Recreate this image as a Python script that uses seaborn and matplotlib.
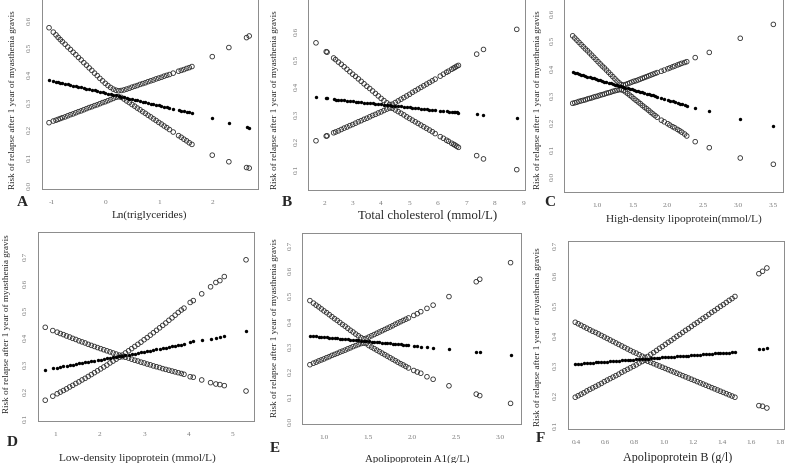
#!/usr/bin/env python3
"""
Restricted cubic spline style panels: blood lipids vs risk of relapse after
1 year of myasthenia gravis. Fitted risk (dots) with lower / upper bounds
(open circles), six panels A-F.
"""
import matplotlib

matplotlib.use("Agg")
import matplotlib.pyplot as plt
import pandas as pd
import seaborn as sns

W, H = 787, 463
Y_LABEL = "Risk of relapse after 1 year of myasthenia gravis"

# ---- A: Ln(triglycerides) ----
a_x = [-1.05, -0.97, -0.92, -0.88, -0.84, -0.80, -0.75, -0.70, -0.65, -0.60, -0.55, -0.50,
       -0.45, -0.40, -0.35, -0.30, -0.25, -0.20, -0.15, -0.10, -0.05, 0.00, 0.05, 0.10,
       0.15, 0.20, 0.25, 0.30, 0.35, 0.40, 0.45, 0.50, 0.55, 0.60, 0.65, 0.70, 0.75, 0.80,
       0.85, 0.90, 0.95, 1.00, 1.05, 1.10, 1.15, 1.20, 1.27, 1.37, 1.42, 1.47, 1.52, 1.57,
       1.62, 2.00, 2.31, 2.64, 2.69]
a_fit = [0.372, 0.368, 0.366, 0.364, 0.362, 0.361, 0.358, 0.356, 0.354, 0.352, 0.349, 0.347,
         0.345, 0.343, 0.340, 0.338, 0.336, 0.334, 0.331, 0.329, 0.327, 0.325, 0.322, 0.320,
         0.318, 0.316, 0.313, 0.311, 0.309, 0.307, 0.304, 0.302, 0.300, 0.298, 0.295, 0.293,
         0.291, 0.289, 0.286, 0.284, 0.282, 0.280, 0.277, 0.275, 0.273, 0.271, 0.268, 0.263,
         0.261, 0.259, 0.256, 0.254, 0.252, 0.233, 0.217, 0.200, 0.199]
a_lower = [0.217, 0.223, 0.226, 0.229, 0.232, 0.235, 0.238, 0.242, 0.246, 0.249, 0.253, 0.257,
           0.260, 0.264, 0.268, 0.272, 0.275, 0.279, 0.282, 0.286, 0.290, 0.293, 0.297, 0.301,
           0.305, 0.309, 0.311, 0.309, 0.303, 0.296, 0.290, 0.283, 0.277, 0.270, 0.264, 0.257,
           0.251, 0.244, 0.238, 0.231, 0.225, 0.218, 0.212, 0.205, 0.199, 0.192, 0.183, 0.170,
           0.164, 0.157, 0.151, 0.144, 0.138, 0.099, 0.075, 0.054, 0.052]
a_upper = [0.562, 0.546, 0.536, 0.527, 0.519, 0.511, 0.502, 0.492, 0.483, 0.473, 0.464, 0.454,
           0.445, 0.435, 0.426, 0.416, 0.407, 0.397, 0.388, 0.378, 0.369, 0.360, 0.352, 0.345,
           0.339, 0.335, 0.333, 0.334, 0.336, 0.339, 0.342, 0.346, 0.349, 0.352, 0.356, 0.359,
           0.362, 0.366, 0.369, 0.372, 0.376, 0.379, 0.382, 0.386, 0.389, 0.392, 0.397, 0.404,
           0.407, 0.410, 0.414, 0.417, 0.421, 0.457, 0.490, 0.526, 0.532]

# ---- B: Total cholesterol ----
b_x = [1.71, 2.07, 2.10, 2.33, 2.40, 2.50, 2.60, 2.70, 2.80, 2.90, 3.00, 3.10, 3.20, 3.30,
       3.40, 3.50, 3.60, 3.70, 3.80, 3.90, 4.00, 4.10, 4.20, 4.30, 4.40, 4.50, 4.60, 4.70,
       4.80, 4.90, 5.00, 5.10, 5.20, 5.30, 5.40, 5.50, 5.60, 5.70, 5.80, 5.90, 6.08, 6.19,
       6.30, 6.37, 6.48, 6.55, 6.60, 6.66, 6.72, 7.36, 7.60, 8.77]
b_fit = [0.352, 0.348, 0.348, 0.345, 0.344, 0.343, 0.342, 0.341, 0.340, 0.339, 0.338, 0.336,
         0.335, 0.334, 0.333, 0.332, 0.331, 0.330, 0.329, 0.327, 0.326, 0.325, 0.324, 0.323,
         0.322, 0.321, 0.320, 0.319, 0.317, 0.316, 0.315, 0.314, 0.313, 0.312, 0.311, 0.310,
         0.308, 0.307, 0.306, 0.305, 0.303, 0.302, 0.301, 0.300, 0.299, 0.298, 0.298, 0.297,
         0.296, 0.290, 0.288, 0.276]
b_lower = [0.194, 0.211, 0.212, 0.223, 0.226, 0.230, 0.235, 0.240, 0.244, 0.249, 0.253, 0.258,
           0.263, 0.267, 0.272, 0.276, 0.281, 0.286, 0.290, 0.295, 0.299, 0.304, 0.309, 0.313,
           0.312, 0.306, 0.300, 0.294, 0.288, 0.281, 0.275, 0.269, 0.263, 0.257, 0.251, 0.245,
           0.239, 0.233, 0.227, 0.220, 0.209, 0.203, 0.196, 0.192, 0.185, 0.181, 0.178, 0.174,
           0.170, 0.140, 0.128, 0.089]
b_upper = [0.550, 0.518, 0.516, 0.495, 0.489, 0.480, 0.472, 0.463, 0.454, 0.445, 0.436, 0.428,
           0.419, 0.410, 0.401, 0.392, 0.384, 0.375, 0.366, 0.357, 0.348, 0.340, 0.332, 0.326,
           0.327, 0.333, 0.339, 0.345, 0.351, 0.357, 0.363, 0.370, 0.376, 0.382, 0.388, 0.394,
           0.400, 0.406, 0.412, 0.418, 0.429, 0.436, 0.443, 0.447, 0.454, 0.458, 0.461, 0.465,
           0.468, 0.509, 0.526, 0.599]

# ---- C: High-density lipoprotein ----
c_x = [0.65, 0.68, 0.71, 0.74, 0.77, 0.80, 0.83, 0.86, 0.89, 0.92, 0.95, 0.98, 1.01, 1.04,
       1.07, 1.10, 1.13, 1.16, 1.19, 1.22, 1.25, 1.28, 1.31, 1.34, 1.37, 1.40, 1.43, 1.46,
       1.49, 1.52, 1.55, 1.58, 1.61, 1.64, 1.67, 1.70, 1.73, 1.76, 1.79, 1.82, 1.85, 1.91,
       1.95, 2.00, 2.03, 2.07, 2.10, 2.14, 2.17, 2.20, 2.24, 2.27, 2.39, 2.59, 3.03, 3.50]
c_fit = [0.375, 0.373, 0.371, 0.368, 0.366, 0.364, 0.362, 0.359, 0.357, 0.355, 0.353, 0.350,
         0.348, 0.346, 0.344, 0.341, 0.339, 0.337, 0.335, 0.332, 0.330, 0.328, 0.326, 0.323,
         0.321, 0.319, 0.317, 0.314, 0.312, 0.310, 0.308, 0.305, 0.303, 0.301, 0.299, 0.296,
         0.294, 0.292, 0.290, 0.287, 0.285, 0.280, 0.277, 0.273, 0.271, 0.268, 0.265, 0.262,
         0.260, 0.257, 0.254, 0.251, 0.243, 0.231, 0.205, 0.178]
c_lower = [0.261, 0.263, 0.265, 0.268, 0.270, 0.272, 0.274, 0.277, 0.279, 0.281, 0.284, 0.286,
           0.288, 0.291, 0.293, 0.295, 0.298, 0.300, 0.302, 0.305, 0.307, 0.309, 0.311, 0.311,
           0.308, 0.303, 0.297, 0.291, 0.285, 0.278, 0.272, 0.266, 0.260, 0.253, 0.247, 0.241,
           0.235, 0.228, 0.222, 0.216, 0.210, 0.199, 0.193, 0.186, 0.181, 0.175, 0.171, 0.165,
           0.160, 0.155, 0.148, 0.141, 0.120, 0.098, 0.060, 0.037]
c_upper = [0.509, 0.501, 0.493, 0.485, 0.477, 0.469, 0.461, 0.454, 0.446, 0.438, 0.430, 0.422,
           0.414, 0.406, 0.398, 0.391, 0.383, 0.375, 0.367, 0.359, 0.351, 0.343, 0.336, 0.330,
           0.328, 0.330, 0.333, 0.336, 0.339, 0.342, 0.344, 0.347, 0.350, 0.353, 0.356, 0.359,
           0.362, 0.365, 0.368, 0.371, 0.374, 0.379, 0.383, 0.388, 0.391, 0.395, 0.398, 0.402,
           0.405, 0.408, 0.411, 0.414, 0.429, 0.448, 0.500, 0.551]

# ---- D: Low-density lipoprotein ----
d_x = [0.77, 0.94, 1.04, 1.11, 1.18, 1.25, 1.32, 1.39, 1.46, 1.53, 1.60, 1.67, 1.74, 1.81,
       1.88, 1.95, 2.02, 2.09, 2.16, 2.23, 2.30, 2.37, 2.44, 2.51, 2.58, 2.65, 2.72, 2.79,
       2.86, 2.93, 3.00, 3.07, 3.14, 3.21, 3.28, 3.35, 3.42, 3.49, 3.56, 3.63, 3.70, 3.77,
       3.84, 3.90, 4.04, 4.11, 4.30, 4.50, 4.62, 4.71, 4.81, 5.30]
d_fit = [0.270, 0.275, 0.278, 0.280, 0.282, 0.284, 0.286, 0.288, 0.291, 0.293, 0.295, 0.297,
         0.299, 0.301, 0.303, 0.305, 0.307, 0.309, 0.312, 0.314, 0.316, 0.318, 0.320, 0.322,
         0.324, 0.326, 0.328, 0.330, 0.333, 0.335, 0.337, 0.339, 0.341, 0.343, 0.345, 0.347,
         0.349, 0.351, 0.354, 0.356, 0.358, 0.360, 0.362, 0.365, 0.374, 0.376, 0.380, 0.385,
         0.389, 0.391, 0.394, 0.413]
d_lower = [0.157, 0.172, 0.181, 0.187, 0.193, 0.199, 0.206, 0.212, 0.219, 0.225, 0.232, 0.238,
           0.245, 0.252, 0.259, 0.266, 0.273, 0.280, 0.287, 0.295, 0.302, 0.309, 0.316, 0.318,
           0.316, 0.313, 0.309, 0.305, 0.302, 0.298, 0.295, 0.291, 0.288, 0.284, 0.281, 0.278,
           0.274, 0.271, 0.268, 0.265, 0.262, 0.259, 0.256, 0.253, 0.244, 0.242, 0.232, 0.222,
           0.217, 0.215, 0.211, 0.191]
d_upper = [0.427, 0.415, 0.409, 0.404, 0.400, 0.395, 0.391, 0.386, 0.382, 0.377, 0.373, 0.369,
           0.364, 0.360, 0.356, 0.352, 0.348, 0.344, 0.340, 0.336, 0.332, 0.328, 0.324, 0.324,
           0.332, 0.340, 0.348, 0.356, 0.364, 0.372, 0.381, 0.389, 0.398, 0.407, 0.416, 0.425,
           0.434, 0.443, 0.453, 0.462, 0.472, 0.482, 0.491, 0.498, 0.519, 0.526, 0.551, 0.577,
           0.593, 0.600, 0.615, 0.677]

# ---- E: Apolipoprotein A1 ----
e_x = [0.84, 0.88, 0.91, 0.94, 0.97, 1.00, 1.03, 1.06, 1.09, 1.12, 1.15, 1.18, 1.21, 1.24,
       1.27, 1.30, 1.33, 1.36, 1.39, 1.42, 1.45, 1.48, 1.51, 1.54, 1.57, 1.60, 1.63, 1.66,
       1.69, 1.72, 1.75, 1.78, 1.81, 1.84, 1.87, 1.90, 1.93, 1.96, 2.02, 2.06, 2.10, 2.17,
       2.24, 2.42, 2.73, 2.77, 3.12]
e_fit = [0.331, 0.330, 0.329, 0.328, 0.327, 0.326, 0.325, 0.324, 0.323, 0.322, 0.321, 0.320,
         0.319, 0.318, 0.317, 0.316, 0.315, 0.314, 0.313, 0.312, 0.311, 0.310, 0.309, 0.308,
         0.307, 0.306, 0.305, 0.304, 0.303, 0.302, 0.301, 0.300, 0.299, 0.298, 0.297, 0.296,
         0.295, 0.294, 0.292, 0.290, 0.288, 0.285, 0.281, 0.277, 0.266, 0.266, 0.253]
e_lower = [0.216, 0.222, 0.226, 0.231, 0.235, 0.239, 0.244, 0.248, 0.253, 0.257, 0.261, 0.266,
           0.270, 0.274, 0.279, 0.283, 0.288, 0.292, 0.296, 0.300, 0.302, 0.300, 0.292, 0.286,
           0.280, 0.274, 0.268, 0.262, 0.256, 0.250, 0.244, 0.238, 0.232, 0.226, 0.220, 0.215,
           0.209, 0.203, 0.193, 0.187, 0.182, 0.168, 0.158, 0.132, 0.099, 0.093, 0.062]
e_upper = [0.471, 0.461, 0.453, 0.446, 0.438, 0.430, 0.423, 0.415, 0.407, 0.399, 0.392, 0.384,
           0.376, 0.369, 0.361, 0.353, 0.346, 0.338, 0.331, 0.324, 0.319, 0.321, 0.326, 0.331,
           0.336, 0.341, 0.346, 0.351, 0.356, 0.361, 0.366, 0.371, 0.377, 0.382, 0.387, 0.392,
           0.397, 0.402, 0.412, 0.419, 0.427, 0.440, 0.453, 0.487, 0.546, 0.556, 0.622]

# ---- F: Apolipoprotein B ----
f_x = [0.39, 0.41, 0.43, 0.45, 0.47, 0.49, 0.51, 0.53, 0.55, 0.57, 0.59, 0.61, 0.63, 0.65,
       0.67, 0.69, 0.71, 0.73, 0.75, 0.77, 0.79, 0.81, 0.83, 0.85, 0.87, 0.89, 0.91, 0.93,
       0.95, 0.97, 0.99, 1.01, 1.03, 1.05, 1.07, 1.09, 1.11, 1.13, 1.15, 1.17, 1.19, 1.21,
       1.23, 1.25, 1.27, 1.29, 1.31, 1.33, 1.35, 1.37, 1.39, 1.41, 1.43, 1.45, 1.47, 1.49,
       1.655, 1.68, 1.71]
f_fit = [0.297, 0.298, 0.298, 0.299, 0.300, 0.301, 0.301, 0.302, 0.303, 0.303, 0.304, 0.305,
         0.306, 0.306, 0.307, 0.308, 0.309, 0.309, 0.310, 0.311, 0.311, 0.312, 0.313, 0.314,
         0.314, 0.315, 0.316, 0.316, 0.317, 0.318, 0.319, 0.319, 0.320, 0.321, 0.321, 0.322,
         0.323, 0.324, 0.324, 0.325, 0.326, 0.327, 0.327, 0.328, 0.329, 0.329, 0.330, 0.331,
         0.332, 0.332, 0.333, 0.334, 0.334, 0.335, 0.336, 0.337, 0.348, 0.348, 0.350]
f_lower = [0.186, 0.191, 0.196, 0.201, 0.207, 0.212, 0.217, 0.222, 0.227, 0.232, 0.238, 0.243,
           0.248, 0.253, 0.258, 0.263, 0.269, 0.274, 0.279, 0.284, 0.289, 0.294, 0.300, 0.305,
           0.309, 0.306, 0.302, 0.298, 0.294, 0.290, 0.286, 0.282, 0.278, 0.274, 0.270, 0.266,
           0.262, 0.258, 0.254, 0.250, 0.246, 0.242, 0.238, 0.234, 0.230, 0.226, 0.222, 0.218,
           0.214, 0.210, 0.206, 0.202, 0.198, 0.194, 0.190, 0.186, 0.158, 0.156, 0.150]
f_upper = [0.436, 0.431, 0.426, 0.421, 0.416, 0.411, 0.406, 0.402, 0.397, 0.392, 0.387, 0.382,
           0.377, 0.372, 0.367, 0.362, 0.357, 0.352, 0.347, 0.342, 0.337, 0.333, 0.328, 0.323,
           0.319, 0.322, 0.329, 0.335, 0.342, 0.349, 0.355, 0.362, 0.369, 0.375, 0.382, 0.389,
           0.395, 0.402, 0.409, 0.415, 0.422, 0.429, 0.435, 0.442, 0.449, 0.455, 0.462, 0.469,
           0.475, 0.482, 0.489, 0.495, 0.502, 0.509, 0.515, 0.522, 0.598, 0.606, 0.617]

# ---- axis ticks ----
a_xticks = [-1, 0, 1, 2]
b_xticks = [2, 3, 4, 5, 6, 7, 8, 9]
c_xticks = [1.0, 1.5, 2.0, 2.5, 3.0, 3.5]
d_xticks = [1, 2, 3, 4, 5]
e_xticks = [1.0, 1.5, 2.0, 2.5, 3.0]
f_xticks = [0.4, 0.6, 0.8, 1.0, 1.2, 1.4, 1.6, 1.8]
yticks_0_6 = [0.0, 0.1, 0.2, 0.3, 0.4, 0.5, 0.6]
yticks_1_6 = [0.1, 0.2, 0.3, 0.4, 0.5, 0.6]
yticks_0_7 = [0.0, 0.1, 0.2, 0.3, 0.4, 0.5, 0.6, 0.7]
yticks_1_7 = [0.1, 0.2, 0.3, 0.4, 0.5, 0.6, 0.7]

# ---- layout (pixel boxes: left, top, right, bottom) ----
PANELS = [
    dict(letter="A", xlabel="Ln(triglycerides)", data=(a_x, a_fit, a_lower, a_upper),
         xticks=a_xticks, xfmt="{:g}", yticks=yticks_0_6,
         box=(41.7, -2, 258.3, 189), xlim=(-1.187, 2.86), ylim=(-0.024, 0.670),
         xlab_px=(149.5, 215), xlab_size=8.0, ylab_px=(13, 100), letter_px=(22.7, 203)),
    dict(letter="B", xlabel="Total cholesterol (mmol/L)", data=(b_x, b_fit, b_lower, b_upper),
         xticks=b_xticks, xfmt="{:g}", yticks=yticks_1_6,
         box=(308.3, -2, 525, 190), xlim=(1.44, 9.06), ylim=(0.015, 0.713),
         xlab_px=(428, 215), xlab_size=9.3, ylab_px=(275, 100), letter_px=(287, 202)),
    dict(letter="C", xlabel="High-density lipoprotein(mmol/L)", data=(c_x, c_fit, c_lower, c_upper),
         xticks=c_xticks, xfmt="{:.1f}", yticks=yticks_0_6,
         box=(564.3, -2, 783, 192.3), xlim=(0.531, 3.637), ylim=(-0.066, 0.648),
         xlab_px=(683.7, 219), xlab_size=8.2, ylab_px=(538, 100), letter_px=(550, 203)),
    dict(letter="D", xlabel="Low-density lipoprotein (mmol/L)", data=(d_x, d_fit, d_lower, d_upper),
         xticks=d_xticks, xfmt="{:g}", yticks=yticks_1_7,
         box=(37.7, 232, 254, 421), xlim=(0.60, 5.48), ylim=(0.080, 0.780),
         xlab_px=(137.5, 458), xlab_size=8.2, ylab_px=(7, 324), letter_px=(12.7, 443)),
    dict(letter="E", xlabel="Apolipoprotein A1(g/L)", data=(e_x, e_fit, e_lower, e_upper),
         xticks=e_xticks, xfmt="{:.1f}", yticks=yticks_0_7,
         box=(302, 233, 520.5, 424), xlim=(0.75, 3.233), ylim=(-0.020, 0.740),
         xlab_px=(417, 459.5), xlab_size=7.8, ylab_px=(275, 328), letter_px=(274.7, 448)),
    dict(letter="F", xlabel="Apolipoprotein B (g/l)", data=(f_x, f_fit, f_lower, f_upper),
         xticks=f_xticks, xfmt="{:.1f}", yticks=yticks_1_7,
         box=(567.7, 241.3, 784.3, 428.7), xlim=(0.338, 1.83), ylim=(0.081, 0.706),
         xlab_px=(677.5, 458), xlab_size=8.7, ylab_px=(538, 337), letter_px=(540, 438)),
]

AXIS_GREY = "#8a8a8a"
TICK_GREY = "#7a7a7a"
CIRCLE_EDGE = "#2e2e2e"


def _panel_frame(xs, fit, lower, upper) -> tuple[pd.DataFrame, pd.DataFrame]:
    df = pd.DataFrame({"x": xs, "fit": fit, "lower": lower, "upper": upper})
    bounds = df.melt(id_vars="x", value_vars=["lower", "upper"], var_name="bound", value_name="risk")
    return df, bounds


def draw_panel(fig, spec) -> None:
    left, top, right, bottom = spec["box"]
    ax = fig.add_axes([left / W, 1 - bottom / H, (right - left) / W, (bottom - top) / H])
    df, bounds = _panel_frame(*spec["data"])

    sns.scatterplot(data=bounds, x="x", y="risk", ax=ax, marker="o", s=11,
                    color=CIRCLE_EDGE, facecolor="none", edgecolor=CIRCLE_EDGE,
                    linewidth=0.6, legend=False, zorder=2)
    sns.scatterplot(data=df, x="x", y="fit", ax=ax, marker="o", s=6,
                    color="black", linewidth=0, legend=False, zorder=3)

    ax.set_xlim(*spec["xlim"])
    ax.set_ylim(*spec["ylim"])
    ax.set_xticks(spec["xticks"])
    ax.set_xticklabels([spec["xfmt"].format(t) for t in spec["xticks"]])
    ax.set_yticks(spec["yticks"])
    ax.set_yticklabels([f"{t:.1f}" for t in spec["yticks"]])
    ax.tick_params(axis="both", direction="out", length=3, width=0.6, color=AXIS_GREY,
                   labelsize=5.3, labelcolor=TICK_GREY)
    ax.tick_params(axis="x", pad=5)
    ax.tick_params(axis="y", pad=4, labelrotation=90)
    for sp in ax.spines.values():
        sp.set_visible(True)
        sp.set_color(AXIS_GREY)
        sp.set_linewidth(0.7)

    width, height = right - left, bottom - top
    ax.set_xlabel(spec["xlabel"], fontsize=spec["xlab_size"])
    xl, yl = spec["xlab_px"]
    ax.xaxis.set_label_coords((xl - left) / width, (bottom - yl) / height)
    ax.xaxis.label.set(va="center", ha="center")

    ax.set_ylabel(Y_LABEL, fontsize=6.6)
    xl, yl = spec["ylab_px"]
    ax.yaxis.set_label_coords((xl - left) / width, (bottom - yl) / height)
    ax.yaxis.label.set(va="center", ha="center", rotation_mode="anchor")

    lx, ly = spec["letter_px"]
    fig.text(lx / W, 1 - ly / H, spec["letter"], fontsize=11, fontweight="bold",
             ha="center", va="center")


def main() -> None:
    sns.set_style("white")
    plt.rcParams["font.family"] = ["Liberation Serif", "DejaVu Serif"]
    fig = plt.figure(figsize=(W / 100, H / 100), dpi=100)
    for spec in PANELS:
        draw_panel(fig, spec)
    fig.savefig("out.png", dpi=100)
    plt.close(fig)


if __name__ == "__main__":
    main()
